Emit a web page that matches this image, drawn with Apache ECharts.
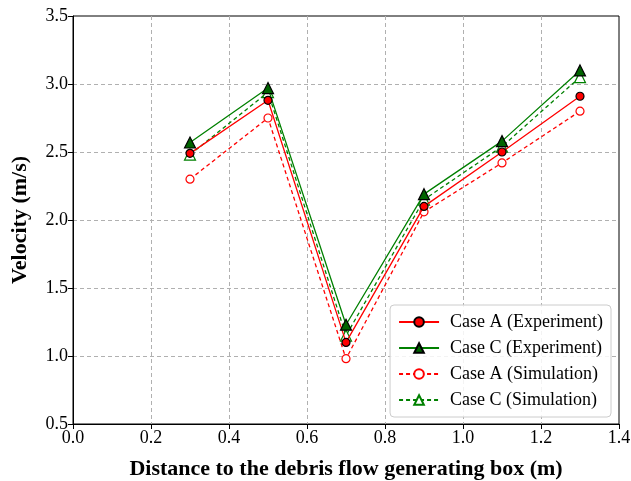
<!DOCTYPE html>
<html>
<head>
<meta charset="utf-8">
<script src="https://cdn.jsdelivr.net/npm/echarts@6/dist/echarts.min.js"></script>
<style>html,body{margin:0;padding:0;background:#fff}#c{width:631px;height:481px}</style>
</head>
<body>
<div id="c"></div>
<script>
const distances = [0.3, 0.5, 0.7, 0.9, 1.1, 1.3];
const caseAExp = [2.49, 2.88, 1.10, 2.10, 2.50, 2.91];
const caseCExp = [2.57, 2.97, 1.23, 2.19, 2.58, 3.10];
const caseASim = [2.30, 2.75, 0.98, 2.06, 2.42, 2.80];
const caseCSim = [2.48, 2.94, 1.15, 2.15, 2.54, 3.05];
const seriesNames = ['Case A (Experiment)', 'Case C (Experiment)', 'Case A (Simulation)', 'Case C (Simulation)'];

const pair = arr => distances.map((d, i) => [d, arr[i]]);
const FONT = '"Liberation Serif", "Times New Roman", serif';

function mk(name, data, color, dashed, fill, sym, edge) {
  return {
    name, type: 'line', data: pair(data),
    symbol: sym, symbolSize: sym === 'triangle' ? 11 : 8,
    showAllSymbol: true,
    lineStyle: { color, width: 1.3, type: dashed ? [4, 3] : 'solid' },
    itemStyle: { color: fill, borderColor: edge, borderWidth: 1.2 },
    emphasis: { disabled: true },
    z: dashed ? 3 : 4
  };
}

const axisCommon = {
  axisLine: { show: true, lineStyle: { color: '#000', width: 1 } },
  axisTick: { show: true, inside: false, length: 5, lineStyle: { color: '#000' } },
  axisLabel: { fontFamily: FONT, fontSize: 18, color: '#000', margin: 5, formatter: v => v.toFixed(1) },
  splitLine: { show: true, showMinLine: false, showMaxLine: false, lineStyle: { color: '#b0b0b0', type: [4, 3], width: 1 } }
};

const chart = echarts.init(document.getElementById('c'), null, { renderer: 'canvas' });
chart.setOption({
  animation: false,
  backgroundColor: '#fff',
  textStyle: { fontFamily: FONT },
  grid: { left: 73, right: 12, top: 16, bottom: 57, outerBoundsMode: 'none', containLabel: false, show: true, borderColor: '#000', borderWidth: 1, backgroundColor: 'transparent' },
  xAxis: Object.assign({
    type: 'value', min: 0, max: 1.4, interval: 0.2,
    name: 'Distance to the debris flow generating box (m)',
    nameLocation: 'middle', nameGap: 34,
    nameTextStyle: { fontFamily: FONT, fontSize: 22, fontWeight: 'bold', color: '#000' }
  }, axisCommon),
  yAxis: Object.assign({
    type: 'value', min: 0.5, max: 3.5, interval: 0.5,
    name: 'Velocity (m/s)',
    nameLocation: 'middle', nameGap: 42, nameRotate: 90,
    nameTextStyle: { fontFamily: FONT, fontSize: 22, fontWeight: 'bold', color: '#000' }
  }, axisCommon),
  legend: {
    orient: 'vertical', right: 20, bottom: 64,
    data: seriesNames,
    backgroundColor: 'rgba(255,255,255,0.85)',
    borderColor: '#cccccc', borderWidth: 1, borderRadius: 4,
    padding: [8, 8, 8, 8],
    itemGap: 8, itemWidth: 40, itemHeight: 12,
    textStyle: { fontFamily: FONT, fontSize: 18, color: '#000', padding: [0, 0, 0, 6] }
  },
  series: [
    mk(seriesNames[0], caseAExp, '#ff0000', false, '#ff0000', 'circle', '#000'),
    mk(seriesNames[1], caseCExp, '#008000', false, '#006400', 'triangle', '#000'),
    mk(seriesNames[2], caseASim, '#ff0000', true, '#ffffff', 'circle', '#ff0000'),
    mk(seriesNames[3], caseCSim, '#008000', true, '#ffffff', 'triangle', '#008000')
  ]
});
</script>
</body>
</html>
